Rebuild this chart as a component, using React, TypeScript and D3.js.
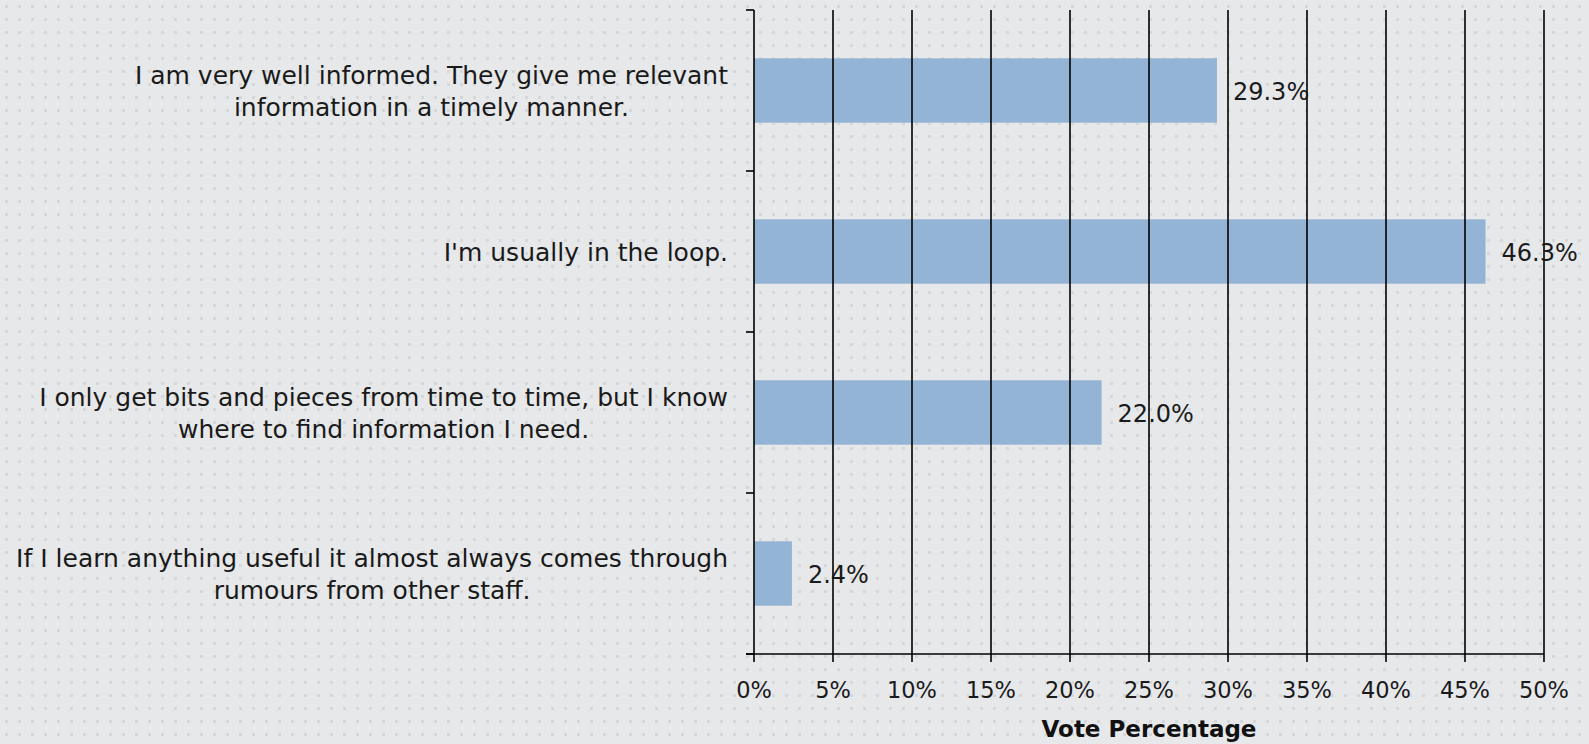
import React, { useEffect, useRef } from "react";
import * as d3 from "d3";

const categories: string[][] = [
  ["I am very well informed. They give me relevant", "information in a timely manner."],
  ["I'm usually in the loop."],
  ["I only get bits and pieces from time to time, but I know", "where to find information I need."],
  ["If I learn anything useful it almost always comes through", "rumours from other staff."],
];
const values: number[] = [29.3, 46.3, 22.0, 2.4];
const xTicks: number[] = [0, 5, 10, 15, 20, 25, 30, 35, 40, 45, 50];
const axisTitle = "Vote Percentage";

const W = 1589;
const H = 744;
const FONT = "'DejaVu Sans', sans-serif";
const FS_CAT = 25;
const FS_VAL = 24;
const FS_TICK = 22.5;
const FS_TITLE = 23;

export default function App() {
  const ref = useRef<SVGSVGElement>(null);

  useEffect(() => {
    const svg = d3.select(ref.current);
    svg.selectAll("*").remove();

    const defs = svg.append("defs");
    const pat = defs
      .append("pattern")
      .attr("id", "dots")
      .attr("width", 13)
      .attr("height", 13)
      .attr("patternUnits", "userSpaceOnUse");
    pat.append("rect").attr("width", 13).attr("height", 13).attr("fill", "#e7e8ea");
    pat.append("rect").attr("x", 5).attr("y", 5).attr("width", 3).attr("height", 3).attr("fill", "#d6d7d9");

    svg.append("rect").attr("width", W).attr("height", H).attr("fill", "url(#dots)");

    const x = d3.scaleLinear().domain([0, 50]).range([754, 1544]);
    const y = d3
      .scaleBand<number>()
      .domain(categories.map((_, i) => i))
      .range([10, 654]);
    const bw = y.bandwidth();
    const barH = bw * 0.4;

    svg
      .append("g")
      .selectAll("rect")
      .data(values)
      .join("rect")
      .attr("x", x(0))
      .attr("y", (_, i) => (y(i) as number) + bw / 2 - barH / 2)
      .attr("width", (d) => x(d) - x(0))
      .attr("height", barH)
      .attr("fill", "#93b4d4");

    svg
      .append("g")
      .selectAll("line")
      .data(xTicks.filter((t) => t > 0))
      .join("line")
      .attr("x1", (d) => x(d))
      .attr("x2", (d) => x(d))
      .attr("y1", 10)
      .attr("y2", 662)
      .attr("stroke", "#000")
      .attr("stroke-width", 1.6);

    const axG = svg.append("g").attr("stroke", "#000").attr("stroke-width", 1.6);
    axG.append("line").attr("x1", x(0)).attr("x2", x(0)).attr("y1", 10).attr("y2", 662);
    axG.append("line").attr("x1", 746).attr("x2", x(50)).attr("y1", 654).attr("y2", 654);
    const bounds = categories.map((_, i) => y(i) as number).concat([654]);
    axG
      .selectAll("line.yt")
      .data(bounds)
      .join("line")
      .attr("class", "yt")
      .attr("x1", 746)
      .attr("x2", x(0))
      .attr("y1", (d) => d)
      .attr("y2", (d) => d);

    svg
      .append("g")
      .selectAll("text")
      .data(values)
      .join("text")
      .attr("x", (d) => x(d) + 16)
      .attr("y", (_, i) => (y(i) as number) + bw / 2 + 1)
      .attr("dy", "0.35em")
      .attr("font-family", FONT)
      .attr("font-size", FS_VAL)
      .attr("fill", "#1a1a1a")
      .text((d) => d.toFixed(1) + "%");

    svg
      .append("g")
      .selectAll("text")
      .data(xTicks)
      .join("text")
      .attr("x", (d) => x(d))
      .attr("y", 690)
      .attr("dy", "0.35em")
      .attr("text-anchor", "middle")
      .attr("font-family", FONT)
      .attr("font-size", FS_TICK)
      .attr("fill", "#1a1a1a")
      .text((d) => d + "%");

    svg
      .append("text")
      .attr("x", (x(0) + x(50)) / 2)
      .attr("y", 729)
      .attr("dy", "0.35em")
      .attr("text-anchor", "middle")
      .attr("font-family", FONT)
      .attr("font-size", FS_TITLE)
      .attr("font-weight", "bold")
      .attr("fill", "#111")
      .text(axisTitle);

    const lineH = 32;
    const right = 728;
    categories.forEach((lines, i) => {
      const g = svg.append("g");
      const cy = (y(i) as number) + bw / 2 + 1;
      const texts = g
        .selectAll("text")
        .data(lines)
        .join("text")
        .attr("y", (_, j) => cy + (j - (lines.length - 1) / 2) * lineH)
        .attr("dy", "0.35em")
        .attr("text-anchor", "middle")
        .attr("font-family", FONT)
        .attr("font-size", FS_CAT)
        .attr("fill", "#1a1a1a")
        .text((d) => d);
      let maxW = 0;
      texts.each(function () {
        maxW = Math.max(maxW, (this as SVGTextElement).getComputedTextLength());
      });
      texts.attr("x", right - maxW / 2);
    });
  }, []);

  return (
    <svg
      ref={ref}
      width={W}
      height={H}
      style={{ position: "absolute", left: 0, top: 0, display: "block" }}
    />
  );
}
